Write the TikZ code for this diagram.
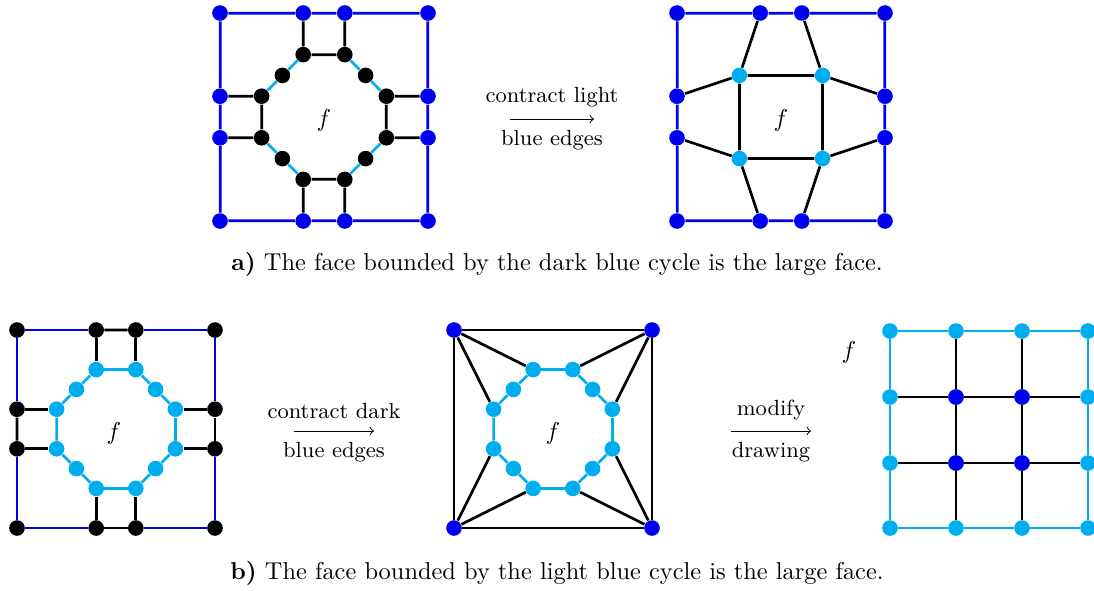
\documentclass[tikz,border=0pt]{standalone}
\usepackage{tikz}
\definecolor{dblue}{RGB}{0,0,240}
\definecolor{lblue}{RGB}{0,174,239}
\begin{document}
\begin{tikzpicture}[x=0.41pt,y=-0.41pt,
  vtx/.style={circle,inner sep=0pt,minimum size=6.4pt},
  bkv/.style={vtx,fill=black},
  dbv/.style={vtx,fill=dblue},
  lbv/.style={vtx,fill=lblue},
  bke/.style={line width=1.1pt,black},
  dbe/.style={line width=1.1pt,dblue},
  lbe/.style={line width=1.1pt,lblue},
  arlab/.style={anchor=base,font=\small}]
\useasboundingbox (0,0) rectangle (1094,590);
\def\outerlist{1/-5/-5,2/-1/-5,3/1/-5,4/5/-5,5/5/-1,6/5/1,7/5/5,8/1/5,9/-1/5,10/-5/5,11/-5/1,12/-5/-1}
\def\innerlist{1/-1/-3,2/1/-3,3/2/-2,4/3/-1,5/3/1,6/2/2,7/1/3,8/-1/3,9/-2/2,10/-3/1,11/-3/-1,12/-2/-2}
\def\cyclelist{1/2,2/3,3/4,4/5,5/6,6/7,7/8,8/9,9/10,10/11,11/12,12/1}
\def\spokelist{2/1,3/2,5/4,6/5,8/7,9/8,11/10,12/11}
% ---------- panel a, left
\begin{scope}[shift={(324,117)},scale=20.8]
  \foreach \n/\x/\y in \outerlist {\node[dbv] (Ao\n) at (\x,\y) {};}
  \foreach \n/\x/\y in \innerlist {\node[bkv] (Ai\n) at (\x,\y) {};}
  \foreach \a/\b in \cyclelist {\draw[dbe] (Ao\a) -- (Ao\b);}
  \foreach \a/\b in \spokelist {\draw[bke] (Ao\a) -- (Ai\b);}
  \foreach \a/\b in {1/2,4/5,7/8,10/11} {\draw[bke] (Ai\a) -- (Ai\b);}
  \foreach \a/\b in {2/3,3/4,5/6,6/7,8/9,9/10,11/12,12/1} {\draw[lbe] (Ai\a) -- (Ai\b);}
  \node (Af) at (0,0.15) {$f$};
\end{scope}
% ---------- panel a, right
\begin{scope}[shift={(781,117)},scale=20.8]
  \foreach \n/\x/\y in \outerlist {\node[dbv] (Bo\n) at (\x,\y) {};}
  \foreach \n/\x/\y in {1/-2/-2,2/2/-2,3/2/2,4/-2/2} {\node[lbv] (Bc\n) at (\x,\y) {};}
  \foreach \a/\b in \cyclelist {\draw[dbe] (Bo\a) -- (Bo\b);}
  \foreach \a/\b in {2/1,3/2,5/2,6/3,8/3,9/4,11/4,12/1} {\draw[bke] (Bo\a) -- (Bc\b);}
  \foreach \a/\b in {1/2,2/3,3/4,4/1} {\draw[bke] (Bc\a) -- (Bc\b);}
  \node (Bf) at (0,0.15) {$f$};
\end{scope}
% ---------- panel b, left
\begin{scope}[shift={(116,429)},scale=19.8]
  \foreach \n/\x/\y in \outerlist {\node[bkv] (Co\n) at (\x,\y) {};}
  \foreach \n/\x/\y in \innerlist {\node[lbv] (Ci\n) at (\x,\y) {};}
  \foreach \a/\b in {1/2,3/4,4/5,6/7,7/8,9/10,10/11,12/1} {\draw[dbe] (Co\a) -- (Co\b);}
  \foreach \a/\b in {2/3,5/6,8/9,11/12} {\draw[bke] (Co\a) -- (Co\b);}
  \foreach \a/\b in \spokelist {\draw[bke] (Co\a) -- (Ci\b);}
  \foreach \a/\b in \cyclelist {\draw[lbe] (Ci\a) -- (Ci\b);}
  \node (Cf) at (-0.1,0.2) {$f$};
\end{scope}
% ---------- panel b, middle
\begin{scope}[shift={(553,429)},scale=19.8]
  \foreach \n/\x/\y in {1/-5/-5,2/5/-5,3/5/5,4/-5/5} {\node[dbv] (Dk\n) at (\x,\y) {};}
  \foreach \n/\x/\y in \innerlist {\node[lbv] (Di\n) at (\x,\y) {};}
  \foreach \a/\b in {1/2,2/3,3/4,4/1} {\draw[bke] (Dk\a) -- (Dk\b);}
  \foreach \a/\b in {1/1,1/11,2/2,2/4,3/5,3/7,4/8,4/10} {\draw[bke] (Dk\a) -- (Di\b);}
  \foreach \a/\b in \cyclelist {\draw[lbe] (Di\a) -- (Di\b);}
  \node (Df) at (0,0.2) {$f$};
\end{scope}
% ---------- panel b, right
\foreach \i/\x in {1/890,2/956,3/1022,4/1088} {
  \foreach \j/\y in {1/331,2/397,3/463,4/528} {
    \node[lbv] (E\i\j) at (\x,\y) {};
  }
}
\foreach \i/\x in {2/956,3/1022} {
  \foreach \j/\y in {2/397,3/463} {
    \node[dbv] (E\i\j) at (\x,\y) {};
  }
}
\foreach \a/\b in {1/2,2/3,3/4} {
  \draw[lbe] (E\a1) -- (E\b1);
  \draw[lbe] (E\a4) -- (E\b4);
  \draw[lbe] (E1\a) -- (E1\b);
  \draw[lbe] (E4\a) -- (E4\b);
  \draw[bke] (E2\a) -- (E2\b);
  \draw[bke] (E3\a) -- (E3\b);
  \draw[bke] (E\a2) -- (E\b2);
  \draw[bke] (E\a3) -- (E\b3);
}
\node (Ef) at (849,352) {$f$};
% ---------- arrows
\coordinate (aS) at (510,119); \coordinate (aE) at (594,119);
\draw[->] (aS) -- (aE);
\node[arlab] (aT) at (552,102) {contract light};
\node[arlab] (aB) at (552,145) {blue edges};
\coordinate (bS) at (294,431); \coordinate (bE) at (374,431);
\draw[->] (bS) -- (bE);
\node[arlab] (bT) at (334,418) {contract dark};
\node[arlab] (bB) at (334,457) {blue edges};
\coordinate (cS) at (731,431); \coordinate (cE) at (811,431);
\draw[->] (cS) -- (cE);
\node[arlab] (cT) at (771,415) {modify};
\node[arlab] (cB) at (771,457) {drawing};
% ---------- captions
\node (capa) at (557,264) {\textbf{a)} The face bounded by the dark blue cycle is the large face.};
\node (capb) at (557,573) {\textbf{b)} The face bounded by the light blue cycle is the large face.};
\end{tikzpicture}
\end{document}
